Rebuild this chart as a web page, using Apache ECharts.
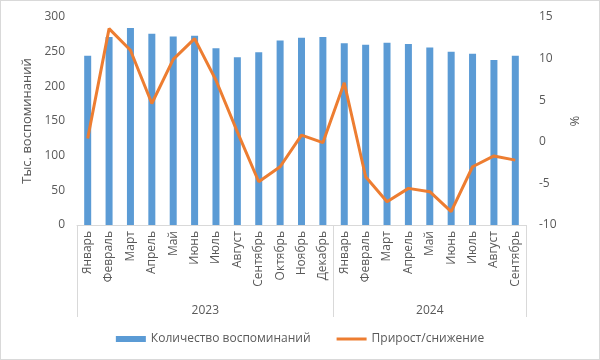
<!DOCTYPE html>
<html>
<head>
<meta charset="utf-8">
<script src="https://cdn.jsdelivr.net/npm/echarts@6/dist/echarts.min.js"></script>
<style>
  html, body { margin: 0; padding: 0; background: #fff; }
  #chart { width: 600px; height: 360px; box-sizing: border-box; border: 1px solid #d9d9d9; }
</style>
</head>
<body>
<div id="chart"></div>
<script>
// месяцы по годам
const months = ["Январь", "Февраль", "Март", "Апрель", "Май", "Июнь", "Июль", "Август",
  "Сентябрь", "Октябрь", "Ноябрь", "Декабрь",
  "Январь", "Февраль", "Март", "Апрель", "Май", "Июнь", "Июль", "Август", "Сентябрь"]
const years = ["2023", "2024"]
const yearCounts = [12, 9]

// тыс. воспоминаний
const memories = [244, 271, 284, 276, 272, 273, 255, 242, 249, 266, 270, 271,
  262, 260, 263, 261, 256, 250, 247, 238, 244]
// прирост/снижение, %
const growth = [0.4, 13.6, 11.0, 4.6, 9.9, 12.4, 7.4, 1.2, -4.8, -3.0, 0.8, -0.1,
  7.1, -4.2, -7.2, -5.6, -6.0, -8.4, -3.0, -1.7, -2.2]

const leftTicks = { min: 0, max: 300, interval: 50 }
const rightTicks = { min: -10, max: 15, interval: 5 }

// границы и центры групп по годам
const bounds = [0]
const centers = []
yearCounts.forEach((n) => {
  const start = bounds[bounds.length - 1]
  centers.push(start + n / 2)
  bounds.push(start + n)
})
const total = bounds[bounds.length - 1]

const chart = echarts.init(document.getElementById("chart"))
const font = "'Open Sans', 'Noto Sans', sans-serif"
const gray = "#595959"

chart.setOption({
  textStyle: { fontFamily: font, color: gray },
  animation: false,
  grid: { left: 76, right: 73, top: 16, bottom: 134 },
  legend: {
    bottom: 9,
    itemGap: 26,
    textStyle: { fontSize: 12, color: gray, fontFamily: font },
    data: [
      { name: "Количество воспоминаний", icon: "rect", itemStyle: { color: "#5B9BD5" } },
      { name: "Прирост/снижение", icon: "path://M0,0L30,0L30,3L0,3Z", itemStyle: { color: "#ED7D31" } }
    ],
    itemWidth: 30,
    itemHeight: 6
  },
  xAxis: [
    {
      type: "category",
      data: months,
      axisLine: { lineStyle: { color: "#d9d9d9" } },
      // вертикальные разделители между годами
      axisTick: {
        show: true,
        length: 92,
        interval: (i) => bounds.indexOf(i) >= 0,
        lineStyle: { color: "#d9d9d9" }
      },
      axisLabel: { interval: 0, rotate: 90, fontSize: 12, color: gray, margin: 6 }
    },
    {
      type: "value",
      position: "bottom",
      min: 0,
      max: total,
      axisLine: { show: false },
      splitLine: { show: false },
      axisTick: { show: false },
      axisLabel: {
        customValues: centers,
        margin: 80,
        fontSize: 12,
        color: gray,
        formatter: (v) => {
          const i = centers.indexOf(v)
          return i >= 0 ? years[i] : ""
        }
      }
    }
  ],
  yAxis: [
    {
      type: "value",
      ...leftTicks,
      name: "Тыс. воспоминаний",
      nameLocation: "middle",
      nameGap: 37,
      nameTextStyle: { fontSize: 13, color: gray },
      axisLine: { show: false },
      axisTick: { show: false },
      splitLine: { show: false },
      axisLabel: { fontSize: 12, color: gray, margin: 12 }
    },
    {
      type: "value",
      ...rightTicks,
      name: "%",
      nameLocation: "middle",
      nameGap: 37,
      nameRotate: -90,
      nameTextStyle: { fontSize: 13, color: gray },
      axisLine: { show: false },
      axisTick: { show: false },
      splitLine: { show: false },
      axisLabel: { fontSize: 12, color: gray, margin: 13 }
    }
  ],
  series: [
    {
      name: "Количество воспоминаний",
      type: "bar",
      data: memories,
      barWidth: 7,
      itemStyle: { color: "#5B9BD5" }
    },
    {
      name: "Прирост/снижение",
      type: "line",
      yAxisIndex: 1,
      data: growth,
      symbol: "none",
      lineStyle: { color: "#ED7D31", width: 3 },
      itemStyle: { color: "#ED7D31" }
    }
  ]
})
</script>
</body>
</html>
